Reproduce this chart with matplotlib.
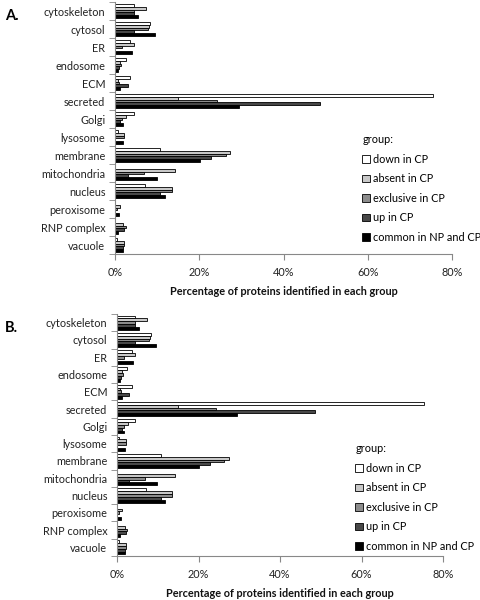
import numpy as np
import matplotlib.pyplot as plt

plt.rcParams['font.family'] = ['Lato', 'DejaVu Sans']

categories = ['cytoskeleton', 'cytosol', 'ER', 'endosome', 'ECM', 'secreted', 'Golgi',
              'lysosome', 'membrane', 'mitochondria', 'nucleus', 'peroxisome',
              'RNP complex', 'vacuole']
groups = ['down in CP', 'absent in CP', 'exclusive in CP', 'up in CP', 'common in NP and CP']

# percentages
down_cp      = [4.5, 8.3, 3.6, 2.5, 3.6, 75.4, 4.5, 0.6, 10.7, 0.0, 7.1, 0.0, 0.0, 0.5]
absent_cp    = [7.4, 8.1, 4.5, 1.3, 0.8, 15.0, 2.6, 2.1, 27.4, 14.3, 13.6, 1.3, 1.9, 2.1]
exclusive_cp = [4.5, 7.9, 1.6, 1.4, 0.9, 24.3, 1.7, 2.1, 26.3, 6.8, 13.6, 0.5, 2.5, 2.1]
up_cp        = [4.5, 4.5, 0.0, 1.0, 3.0, 48.7, 1.2, 0.0, 22.9, 3.0, 10.7, 0.0, 2.2, 2.0]
common_cp    = [5.5, 9.5, 4.0, 0.7, 1.2, 29.5, 1.8, 2.0, 20.1, 9.9, 11.9, 1.0, 0.8, 2.0]

series = [down_cp, absent_cp, exclusive_cp, up_cp, common_cp]
colors = ['#ffffff', '#c8c8c8', '#8c8c8c', '#484848', '#000000']

W, H = 481, 600
fs = 7.8
fig = plt.figure(figsize=(W / 100, H / 100), dpi=100)


def panel(rect, letter, legend_xy):
    # rect in pixels: left, top, right, bottom
    l, t, r, b = rect
    ax = fig.add_axes([l / W, 1 - b / H, (r - l) / W, (b - t) / H])
    y = np.arange(len(categories))
    h = 0.165
    for j, vals in enumerate(series):
        ax.barh(y - 2 * h + j * h, vals, height=h, color=colors[j],
                edgecolor='black', linewidth=0.6, label=groups[j])
    ax.set_ylim(len(categories) - 0.5, -0.5)
    ax.set_xlim(0, 80)
    ax.set_xticks([0, 20, 40, 60, 80])
    ax.set_xticklabels(['0%', '20%', '40%', '60%', '80%'], fontsize=fs, color='#222222')
    ax.set_yticks(y)
    ax.set_yticklabels(categories, fontsize=fs, color='#222222')
    ax.set_yticks(np.arange(len(categories) + 1) - 0.5, minor=True)
    ax.tick_params(axis='y', which='major', length=0, pad=7)
    ax.tick_params(axis='y', which='minor', length=4, color='#888888', direction='out')
    ax.tick_params(axis='x', length=4, color='#888888', direction='out', pad=5)
    for s in ['top', 'right']:
        ax.spines[s].set_visible(False)
    for s in ['left', 'bottom']:
        ax.spines[s].set_color('#888888')
        ax.spines[s].set_linewidth(0.8)
    ax.set_xlabel('Percentage of proteins identified in each group', fontsize=fs,
                  fontweight='bold', labelpad=6, color='#111111')
    fig.text(5 / W, 1 - (t + 14) / H, letter, fontsize=10.5, fontweight='bold',
             va='center', ha='left')
    lx, ly = legend_xy
    leg = ax.legend(loc='upper left', bbox_to_anchor=(lx / W, 1 - ly / H),
                    bbox_transform=fig.transFigure, frameon=False, fontsize=fs,
                    title='group:', handlelength=0.7, handleheight=0.7,
                    handletextpad=0.3, labelspacing=0.78, borderpad=0)
    leg.get_title().set_fontsize(fs)
    leg._legend_box.align = 'left'
    return ax


panel((115, 2, 452, 254), 'A.', (357, 129))
panel((117, 314, 443, 556), 'B.', (350, 438))

fig.savefig('out.png', dpi=100)
